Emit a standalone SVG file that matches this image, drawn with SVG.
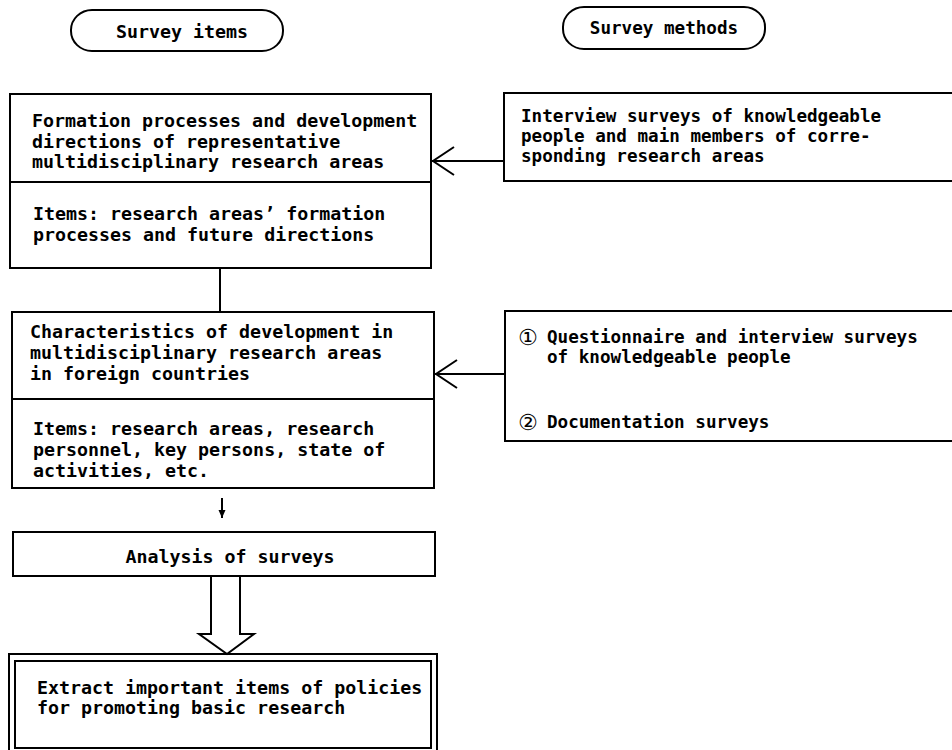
<svg xmlns="http://www.w3.org/2000/svg" width="952" height="750" viewBox="0 0 952 750">
<defs>
<style>
.box{fill:none;stroke:#000;stroke-width:2}
.ln{fill:none;stroke:#000;stroke-width:2}
.tl{font-family:"DejaVu Sans Mono","Liberation Mono",monospace;font-size:18.3px;font-weight:bold;fill:#000}
.tr{font-family:"DejaVu Sans Mono","Liberation Mono",monospace;font-size:17.6px;font-weight:bold;fill:#000}
.circ{font-family:"DejaVu Sans","Noto Sans CJK JP",sans-serif;font-size:22px;fill:#000}
</style>
<marker id="open" viewBox="0 0 24 30" refX="23" refY="15" markerWidth="24" markerHeight="30" markerUnits="userSpaceOnUse" orient="auto">
<path d="M1,1 L22,15 L1,29" fill="none" stroke="#000" stroke-width="2"/>
</marker>
<marker id="small" viewBox="0 0 8 8" refX="8" refY="4" markerWidth="8" markerHeight="8" markerUnits="userSpaceOnUse" orient="auto">
<path d="M0,0.5 L8,4 L0,7.5 Z" fill="#000"/>
</marker>
</defs>
<rect width="952" height="750" fill="#fff"/>

<g id="header-items">
<rect class="box" x="71" y="10" width="212" height="41" rx="21" ry="20"/>
<text class="tl" x="182" y="38" text-anchor="middle">Survey items</text>
</g>

<g id="header-methods">
<rect class="box" x="563" y="7" width="202" height="42" rx="21" ry="20"/>
<text class="tr" x="664" y="34" text-anchor="middle">Survey methods</text>
</g>

<g id="item1">
<rect class="box" x="10" y="94" width="421" height="174"/>
<line class="ln" x1="10" y1="182" x2="431" y2="182"/>
<text class="tl" x="32" y="127">Formation processes and development</text>
<text class="tl" x="32" y="148">directions of representative</text>
<text class="tl" x="32" y="168">multidisciplinary research areas</text>
<text class="tl" x="33" y="220">Items: research areas’ formation</text>
<text class="tl" x="33" y="241">processes and future directions</text>
</g>

<g id="item2">
<rect class="box" x="12" y="312" width="422" height="176"/>
<line class="ln" x1="12" y1="399" x2="434" y2="399"/>
<text class="tl" x="30" y="338">Characteristics of development in</text>
<text class="tl" x="30" y="359">multidisciplinary research areas</text>
<text class="tl" x="30" y="380">in foreign countries</text>
<text class="tl" x="33" y="435">Items: research areas, research</text>
<text class="tl" x="33" y="456">personnel, key persons, state of</text>
<text class="tl" x="33" y="477">activities, etc.</text>
</g>

<g id="method1">
<rect class="box" x="504" y="93" width="460" height="88"/>
<text class="tr" x="521" y="122">Interview surveys of knowledgeable</text>
<text class="tr" x="521" y="142">people and main members of corre-</text>
<text class="tr" x="521" y="162">sponding research areas</text>
</g>

<g id="method2">
<rect class="box" x="505" y="311" width="460" height="130"/>
<text class="circ" x="518" y="345">①</text>
<text class="tr" x="547" y="343">Questionnaire and interview surveys</text>
<text class="tr" x="547" y="363">of knowledgeable people</text>
<text class="circ" x="518" y="430">②</text>
<text class="tr" x="547" y="428">Documentation surveys</text>
</g>

<g id="analysis">
<rect class="box" x="13" y="532" width="422" height="44"/>
<text class="tl" x="230" y="563" text-anchor="middle">Analysis of surveys</text>
</g>

<g id="extract">
<rect class="box" x="9" y="654" width="428" height="100"/>
<rect class="box" x="15" y="661" width="416" height="87"/>
<text class="tl" x="37" y="694">Extract important items of policies</text>
<text class="tl" x="37" y="714">for promoting basic research</text>
</g>

<g id="connectors">
<line class="ln" x1="220" y1="268" x2="220" y2="312"/>
<line class="ln" x1="504" y1="161" x2="432" y2="161" marker-end="url(#open)"/>
<line class="ln" x1="505" y1="374" x2="435" y2="374" marker-end="url(#open)"/>
<line class="ln" x1="222" y1="498" x2="222" y2="518" marker-end="url(#small)"/>
<path class="ln" d="M211,576 L211,634 L199,634 L227,654 L254,634 L240,634 L240,576" fill="#fff"/>
</g>
</svg>
